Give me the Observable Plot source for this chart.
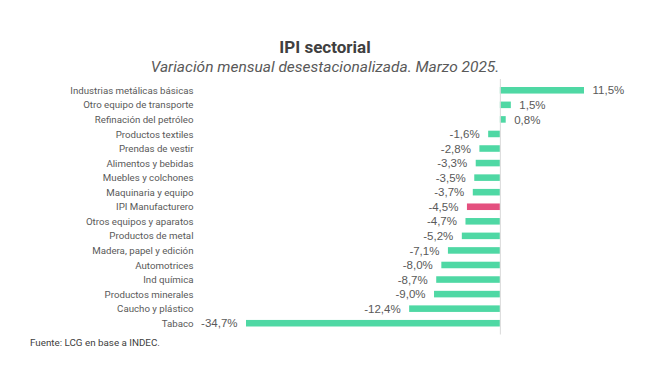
<!DOCTYPE html>
<html>
<head>
<meta charset="utf-8">
<script src="https://cdn.jsdelivr.net/npm/d3@7"></script>
<script src="https://cdn.jsdelivr.net/npm/@observablehq/plot@0.6"></script>
<style>
  body { margin: 0; background: #fff; width: 650px; height: 384px; position: relative; overflow: hidden; }
  #title { position: absolute; top: 37px; left: 0; width: 650px; text-align: center; font-family: Roboto, sans-serif; font-weight: bold; font-size: 17px; color: #404040; line-height: 20px; }
  #subtitle { position: absolute; top: 58px; left: 0; width: 650px; text-align: center; font-family: Roboto, sans-serif; font-style: italic; font-size: 15.5px; color: #595959; line-height: 18px; }
  #chart { position: absolute; top: 78px; left: 0; }
  #caption { position: absolute; top: 337px; left: 30px; font-family: Roboto, sans-serif; font-size: 9.8px; color: #404040; line-height: 12px; }
</style>
</head>
<body>
<div id="title">IPI sectorial</div>
<div id="subtitle">Variación mensual desestacionalizada. Marzo 2025.</div>
<div id="chart"></div>
<div id="caption">Fuente: LCG en base a INDEC.</div>
<script>
const categories = [
  "Industrias metálicas básicas",
  "Otro equipo de transporte",
  "Refinación del petróleo",
  "Productos textiles",
  "Prendas de vestir",
  "Alimentos y bebidas",
  "Muebles y colchones",
  "Maquinaria y equipo",
  "IPI Manufacturero",
  "Otros equipos y aparatos",
  "Productos de metal",
  "Madera, papel y edición",
  "Automotrices",
  "Ind química",
  "Productos minerales",
  "Caucho y plástico",
  "Tabaco"
];
const values = [11.5, 1.5, 0.8, -1.6, -2.8, -3.3, -3.5, -3.7, -4.5, -4.7, -5.2, -7.1, -8.0, -8.7, -9.0, -12.4, -34.7];
const highlight = "IPI Manufacturero";

const data = categories.map((c, i) => ({cat: c, v: values[i]}));
const fmt = v => d3.format(".1f")(v).replace(".", ",").replace("−", "-") + "%";
const pos = data.filter(d => d.v >= 0);
const neg = data.filter(d => d.v < 0);
const labelStyle = {
  x: "v", y: "cat",
  text: d => fmt(d.v),
  fontSize: 11.5,
  fill: "#595959",
  fontFamily: "'Liberation Sans', Arial, sans-serif"
};

const chart = Plot.plot({
  width: 650,
  height: 260,
  marginLeft: 246,
  marginRight: 66,
  marginTop: 1,
  marginBottom: 3.5,
  x: { domain: [-34.7, 11.5], axis: null },
  y: { domain: categories, padding: 0.55, round: false, label: null },
  style: { fontFamily: "Roboto, sans-serif", background: "#fff" },
  marks: [
    Plot.barX(data, {
      x: "v", y: "cat",
      fill: d => d.cat === highlight ? "#E4507F" : "#4FD8A4"
    }),
    Plot.ruleX([0], { stroke: "#d9d9d9", strokeWidth: 1 }),
    Plot.axisY({ tickSize: 0, tickPadding: 53, fontSize: 9.7, fill: "#595959" }),
    Plot.text(pos, { ...labelStyle, textAnchor: "start", dx: 8 }),
    Plot.text(neg, { ...labelStyle, textAnchor: "end", dx: -9 })
  ]
});

document.getElementById("chart").appendChild(chart);
</script>
</body>
</html>
